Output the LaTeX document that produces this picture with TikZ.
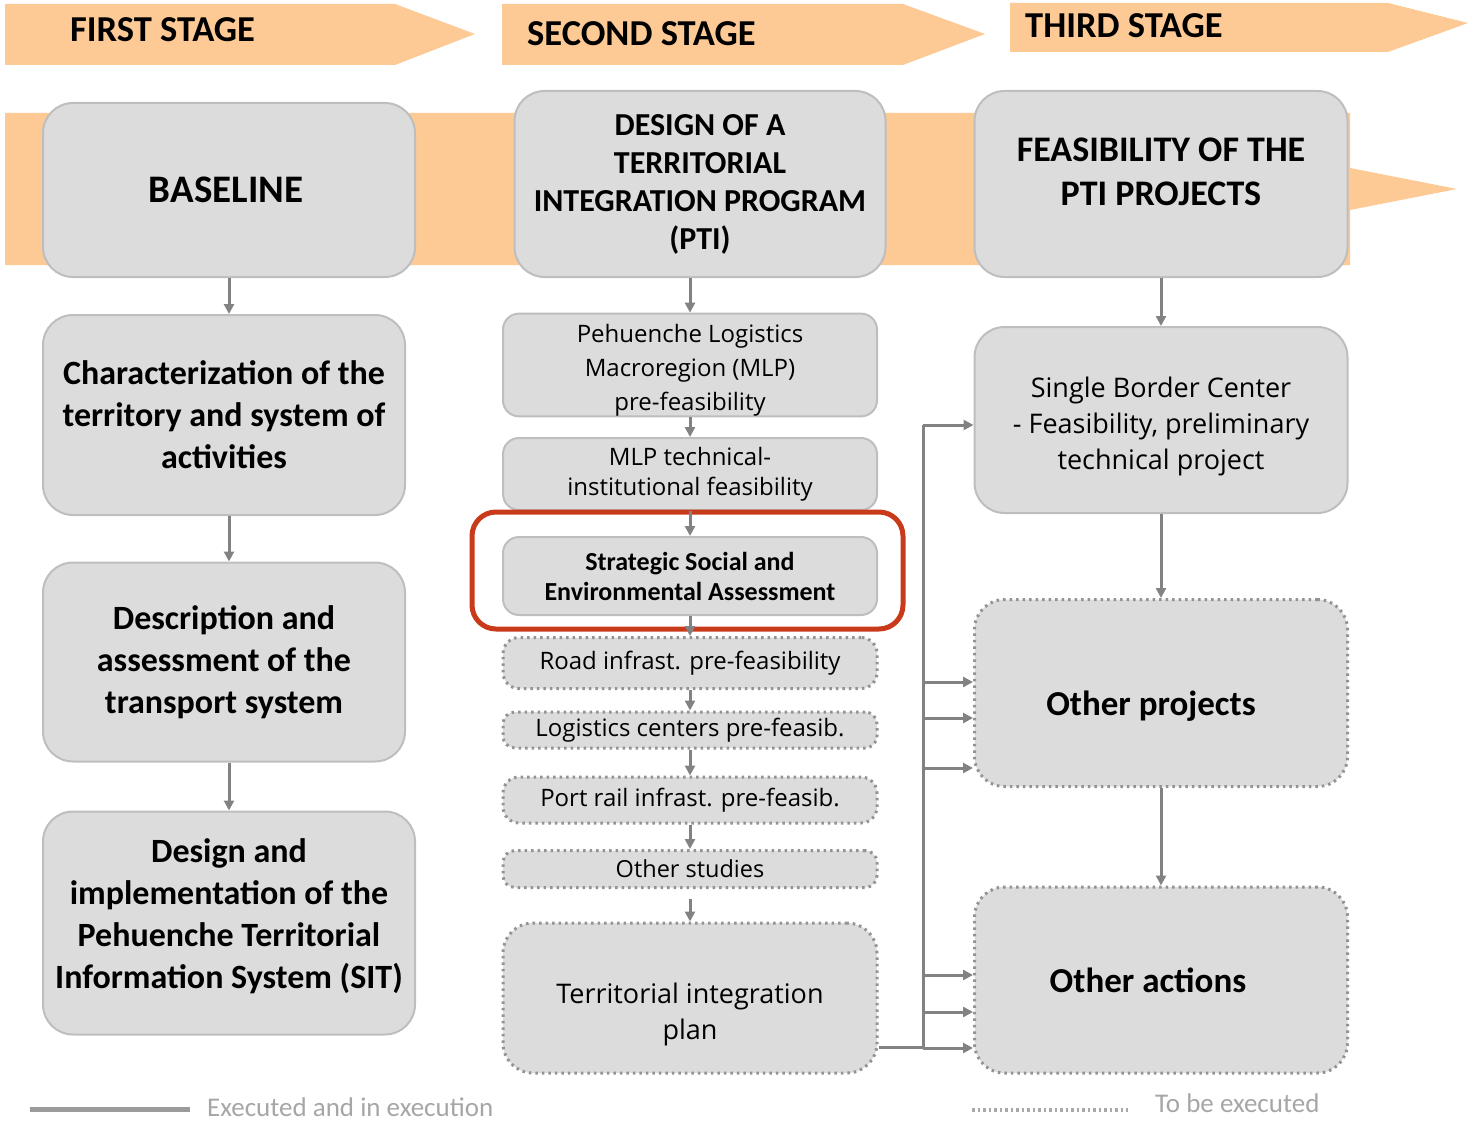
\documentclass[tikz,border=0pt]{standalone}
\usepackage{fontspec}
\setmainfont{Carlito}
\newfontfamily\opensans{Open Sans}
\usetikzlibrary{arrows.meta}

\definecolor{stageorange}{HTML}{FDCA96}
\definecolor{boxgray}{HTML}{DCDCDC}
\definecolor{boxline}{HTML}{BEBEBE}
\definecolor{flowgray}{HTML}{828282}
\definecolor{dotgray}{HTML}{939393}
\definecolor{markred}{HTML}{C93A1B}
\definecolor{legendgray}{HTML}{A6A6A6}

\newcommand{\headfont}{\fontsize{36.5}{42}\selectfont\bfseries}
\newcommand{\stepfont}[2]{\fontsize{#1}{#2}\selectfont\bfseries}
\newcommand{\notefont}[2]{\opensans\fontsize{#1}{#2}\selectfont}

\tikzset{
  stagebox/.style={draw=boxline, line width=2pt, fill=boxgray, rounded corners=30pt,
    align=center, inner sep=0pt},
  smallbox/.style={stagebox, rounded corners=16pt},
  plannedbox/.style={draw=dotgray, line width=3pt, dash pattern=on 2.5pt off 4pt},
  flow/.style={draw=flowgray, line width=3pt, -{Triangle[length=10pt,width=10pt]}},
  flowline/.style={draw=flowgray, line width=3pt},
}

\begin{document}
\begin{tikzpicture}[x=1pt, y=-1pt]
  \useasboundingbox (0,0) rectangle (1470,1126);

  % stage banners and band
  \fill[stageorange] (5,4) -- (395,4) -- (475,34) -- (395,65) -- (5,65) -- cycle;
  \fill[stageorange] (502,4) -- (903,4) -- (985,34) -- (903,65) -- (502,65) -- cycle;
  \fill[stageorange] (1010,3) -- (1388,3) -- (1468,23) -- (1388,52) -- (1010,52) -- cycle;
  \fill[stageorange] (5,113) -- (1350,113) -- (1350,168) -- (1457,189) -- (1350,210)
    -- (1350,265) -- (5,265) -- cycle;

  \node[anchor=west, inner sep=0pt, font=\headfont] (st1) at (70,30) {FIRST STAGE};
  \node[anchor=west, inner sep=0pt, font=\headfont] (st2) at (527,34) {SECOND STAGE};
  \node[anchor=west, inner sep=0pt, font=\headfont] (st3) at (1025,26) {THIRD STAGE};

  % first stage
  \node[stagebox, minimum width=372pt, minimum height=174pt, font=\stepfont{39}{46}] (base) at (229,190)
    {BASELINE\hspace*{6pt}};
  \node[stagebox, minimum width=362pt, minimum height=200pt, font=\stepfont{34}{42}] (char) at (224,415)
    {Characterization of the\\ territory and system of\\ activities};
  \node[stagebox, minimum width=362pt, minimum height=199pt, font=\stepfont{34}{42}] (desc) at (224,662)
    {Description and\\ assessment of the\\ transport system};
  \node[stagebox, minimum width=372pt, minimum height=223pt, font=\stepfont{34}{42}] (sit) at (229,923)
    {Design and\\ implementation of the\\ Pehuenche Territorial\\ Information System (SIT)\\[-24pt]};

  % second stage
  \node[stagebox, minimum width=371pt, minimum height=186pt, font=\stepfont{32}{38}] (pti) at (700,184)
    {DESIGN OF A\\ TERRITORIAL\\ INTEGRATION PROGRAM\\ (PTI)};
  \node[smallbox, minimum width=374pt, minimum height=100pt, font=\notefont{24}{34}] (mlp) at (690,365)
    {\\[-5pt]Pehuenche Logistics\\ Macroregion (MLP)\\ pre-feasibility};
  \node[smallbox, minimum width=374pt, minimum height=72pt, font=\notefont{24}{30}] (inst) at (690,474)
    {MLP technical-\\ institutional feasibility};
  \node[smallbox, minimum width=374pt, minimum height=78pt, font=\stepfont{26}{30}] (ssea) at (690,576)
    {Strategic Social and\\ Environmental Assessment};
  \node[smallbox, plannedbox, minimum width=374pt, minimum height=51pt, font=\notefont{24}{28}] (road) at (690,663)
    {Road infrast. pre-feasibility};
  \node[smallbox, plannedbox, rounded corners=12pt, minimum width=374pt, minimum height=36pt, font=\notefont{24}{28}] (logc) at (690,730)
    {Logistics centers pre-feasib.};
  \node[smallbox, plannedbox, minimum width=374pt, minimum height=46pt, font=\notefont{24}{28}] (port) at (690,800)
    {Port rail infrast. pre-feasib.};
  \node[smallbox, plannedbox, rounded corners=12pt, minimum width=374pt, minimum height=37pt, font=\notefont{23.5}{28}] (othst) at (690,869)
    {Other studies};
  \node[stagebox, plannedbox, minimum width=374pt, minimum height=150pt, font=\notefont{27}{36}] (plan) at (690,998)
    {\\[17pt]Territorial integration\\ plan};

  \draw[markred, line width=5pt, rounded corners=24pt] (472,512) rectangle (903,629);

  % third stage
  \node[stagebox, minimum width=373pt, minimum height=186pt, font=\stepfont{36}{44}] (feas) at (1161,184)
    {FEASIBILITY OF THE\\ PTI PROJECTS\\[-20pt]};
  \node[stagebox, minimum width=373pt, minimum height=186pt, font=\notefont{27}{36}] (sbc) at (1161,420)
    {\\[-2.5pt]Single Border Center\\ - Feasibility, preliminary\\ technical project};
  \node[stagebox, plannedbox, minimum width=373pt, minimum height=187pt, font=\stepfont{35}{40}] (proj) at (1161,693)
    {\\[10pt]Other projects\hspace*{20pt}};
  \node[stagebox, plannedbox, minimum width=373pt, minimum height=186pt, font=\stepfont{35}{40}] (act) at (1161,980)
    {Other actions\hspace*{26pt}};

  % flows
  \draw[flow] (base.south) -- (base.south |- char.north);
  \draw[flow] (base.south |- char.south) -- (base.south |- desc.north);
  \draw[flow] (base.south |- desc.south) -- (base.south |- sit.north);

  \draw[flow] (mlp.north |- pti.south) -- (mlp.north);
  \draw[flow] (mlp.south) -- (inst.north);
  \draw[flow] (inst.south) -- (ssea.north);
  \draw[flow] (ssea.south) -- (road.north);
  \draw[flow] (road.south) -- (logc.north);
  \draw[flow] (logc.south) -- (port.north);
  \draw[flow] (port.south) -- (othst.north);
  \draw[flow] ([yshift=-10pt]othst.south) -- (plan.north);

  \draw[flow] (feas.south) -- (sbc.north);
  \draw[flow] (sbc.south) -- (proj.north);
  \draw[flow] (proj.south) -- (act.north);

  \coordinate (bus) at (923,1047);
  \coordinate (top) at ([yshift=-5pt]sbc.west);
  \draw[flowline] ([yshift=-49pt]plan.east) -- (bus) -- (bus |- top);
  \draw[flow] (bus |- top) -- (top);
  \foreach \dy in {11,-25,-75} {
    \path ([yshift=\dy pt]proj.west) coordinate (tip);
    \draw[flow] (bus |- tip) -- (tip);
  }
  \foreach \dy in {5,-32,-68} {
    \path ([yshift=\dy pt]act.west) coordinate (tip);
    \draw[flow] (bus |- tip) -- (tip);
  }

  % legend
  \draw[flowgray!80, line width=5pt] (30,1109) -- (190,1109);
  \node[anchor=west, inner sep=0pt, text=legendgray, font=\fontsize{27}{30}\selectfont] (lg1) at (207,1107)
    {Executed and in execution};
  \draw[dotgray!80, line width=3.5pt, dash pattern=on 2.5pt off 3pt] (972,1110) -- (1128,1110);
  \node[anchor=west, inner sep=0pt, text=legendgray, font=\fontsize{27}{30}\selectfont] (lg2) at (1155,1103)
    {To be executed};
\end{tikzpicture}
\end{document}
